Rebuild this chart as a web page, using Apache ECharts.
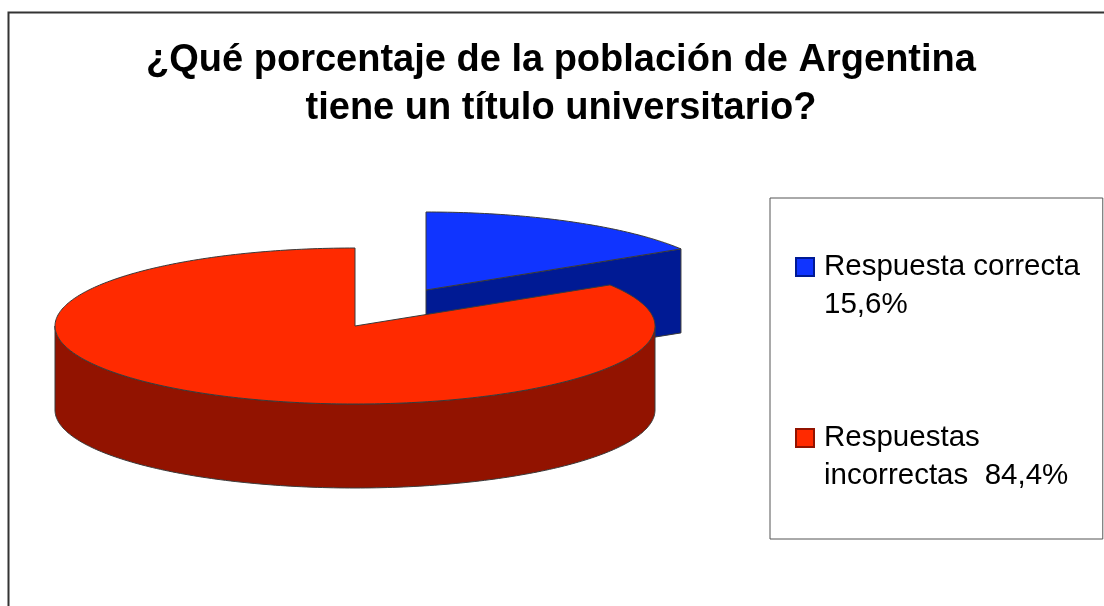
<!DOCTYPE html>
<html>
<head>
<meta charset="utf-8">
<title>Título universitario</title>
<script src="https://cdn.jsdelivr.net/npm/echarts@6/dist/echarts.min.js"></script>
<style>
html, body { margin: 0; padding: 0; background: #fff; }
#chart { width: 1104px; height: 606px; }
</style>
</head>
<body>
<div id="chart"></div>
<script>
var chartTitle = '¿Qué porcentaje de la población de Argentina\ntiene un título universitario?';
var sliceNames = ['Respuesta correcta', 'Respuestas incorrectas'];
var sliceValues = [15.6, 84.4];
var legendLines = ['Respuesta correcta\n15,6%', 'Respuestas\nincorrectas  84,4%'];

var topColors = ['#1034ff', '#ff2a00'];
var sideColors = ['#001a94', '#921300'];
var edgeColor = '#3a3a3a';

// the flattened pie
var rx = 300, ry = 78, depth = 84;
var centers = [[426, 290], [355, 326]];

// perspective of the old 3d pie: pulls the angles a bit away from the axes
function warp(a) {
    return a + 0.0384 * Math.sin(2 * a);
}
function rim(c, a, dy) {
    var w = warp(a);
    return [c[0] + rx * Math.sin(w), c[1] - ry * Math.cos(w) + (dy || 0)];
}
function arcPoints(c, a0, a1, dy) {
    var pts = [];
    var n = Math.max(2, Math.round(Math.abs(a1 - a0) * 60));
    for (var i = 0; i <= n; i++) {
        pts.push(rim(c, a0 + (a1 - a0) * i / n, dy));
    }
    return pts;
}
function poly(points, fill) {
    return {
        type: 'polygon',
        shape: { points: points },
        style: { fill: fill, stroke: edgeColor, lineWidth: 1, lineJoin: 'round' }
    };
}

var total = sliceValues.reduce(function (a, b) { return a + b; }, 0);

function makeRender(idx) {
    return function (params, api) {
        var c = centers[idx];
        var before = 0;
        for (var i = 0; i < idx; i++) before += sliceValues[i];
        var a0 = before / total * Math.PI * 2;
        var a1 = a0 + api.value(0) / total * Math.PI * 2;
        var kids = [];

        // cut face looking at the viewer, only when the slice ends in the right half
        if (a1 < Math.PI) {
            kids.push(poly([c, rim(c, a1), rim(c, a1, depth), [c[0], c[1] + depth]], sideColors[idx]));
        }
        // outer wall, the front half of the rim
        var w0 = Math.max(a0, Math.PI / 2), w1 = Math.min(a1, Math.PI * 1.5);
        if (w1 > w0) {
            var wall = arcPoints(c, w0, w1, 0).concat(arcPoints(c, w1, w0, depth));
            kids.push(poly(wall, sideColors[idx]));
        }
        // top
        kids.push(poly([c].concat(arcPoints(c, a0, a1, 0)), topColors[idx]));
        return { type: 'group', children: kids };
    };
}

var myChart = echarts.init(document.getElementById('chart'), null, { renderer: 'canvas' });

var series = sliceNames.map(function (name, i) {
    return {
        type: 'custom',
        name: name,
        coordinateSystem: 'none',
        renderItem: makeRender(i),
        data: [[sliceValues[i]]],
        itemStyle: { color: topColors[i], borderColor: sideColors[i], borderWidth: 1 },
        clip: false,
        silent: true,
        z: i + 2
    };
});

var option = {
    animation: false,
    backgroundColor: '#fff',
    title: {
        text: chartTitle,
        left: 556,
        top: 32,
        textAlign: 'center',
        textStyle: {
            fontFamily: 'Liberation Sans',
            fontWeight: 'bold',
            fontSize: 38,
            lineHeight: 48,
            color: '#000'
        }
    },
    legend: {
        orient: 'vertical',
        left: 770,
        top: 198,
        padding: [49, 23, 43, 25],
        borderColor: '#555',
        borderWidth: 1,
        itemWidth: 23,
        itemHeight: 76,
        itemGap: 93,
        // square sits on the first text line, the empty corners keep the icon box tall
        icon: 'path://M0 0L0 0Z M0 10H18V28H0Z M23 76L23 76Z',
        selectedMode: false,
        data: sliceNames,
        formatter: function (name) {
            return legendLines[sliceNames.indexOf(name)];
        },
        textStyle: {
            fontFamily: 'Liberation Sans',
            fontSize: 29.5,
            lineHeight: 38,
            color: '#000'
        }
    },
    graphic: [{
        // chart frame, runs off the right and bottom of the screenshot
        type: 'polyline',
        shape: { points: [[8.5, 620], [8.5, 12.5], [1120, 12.5]] },
        style: { stroke: '#333', lineWidth: 2, fill: null }
    }],
    series: series
};

myChart.setOption(option);
window.onresize = function () {
    myChart.resize();
}
</script>
</body>
</html>
